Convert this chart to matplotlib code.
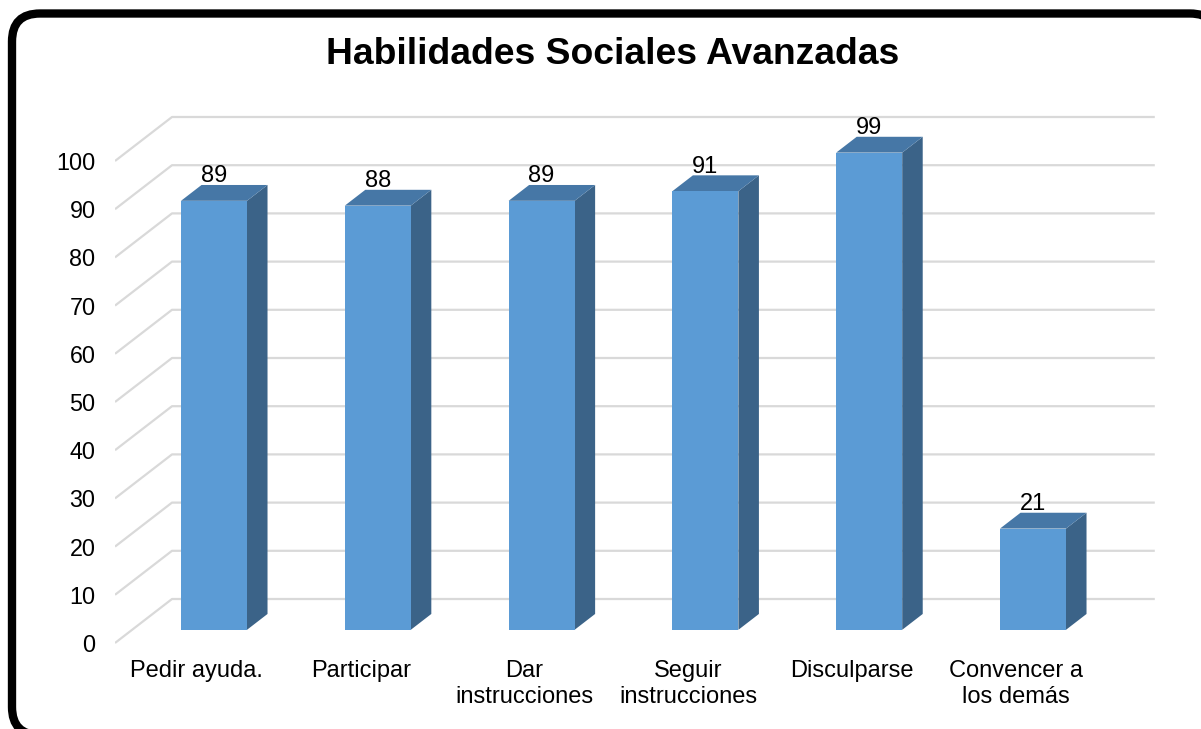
import matplotlib
matplotlib.use("Agg")
import matplotlib.pyplot as plt
from matplotlib.patches import Polygon, FancyBboxPatch

plt.rcParams['font.family'] = ['Liberation Sans', 'DejaVu Sans']

# data
categories = ['Pedir ayuda.', 'Participar', 'Dar\ninstrucciones',
              'Seguir\ninstrucciones', 'Disculparse', 'Convencer a\nlos demás']
values = [89, 88, 89, 91, 99, 21]
yticks = list(range(0, 101, 10))
title = 'Habilidades Sociales Avanzadas'

# look of the fake 3D
front_col = '#5B9BD5'
top_col = '#4677A6'
side_col = '#3B6388'
grid_col = '#D9D9D9'

W, H = 1201, 729
fig = plt.figure(figsize=(W / 100, H / 100), dpi=100)

# pixel layout of the plot area
px_left, px_right = 115, 1155
px_top, px_bottom = 90, 652
px_zero = 643          # pixel row of value 0 on front floor
px_per_unit = 4.82     # pixels per value unit
px_per_cat = 163.8     # pixels per category
wall_dx_px, wall_dy_px = 57, 44

ax = fig.add_axes([px_left / W, (H - px_bottom) / H,
                   (px_right - px_left) / W, (px_bottom - px_top) / H])
ax.set_xlim(-0.5, -0.5 + (px_right - px_left) / px_per_cat)
ax.set_ylim((px_zero - px_bottom) / px_per_unit, (px_zero - px_top) / px_per_unit)

DX = wall_dx_px / px_per_cat
DY = wall_dy_px / px_per_unit
f1, f2 = 0.30, 0.66  # depth of bar front / back as fraction of wall depth
n = len(categories)

# gridlines: diagonal on the side wall + horizontal on the back wall
for v in yticks:
    ax.plot([-0.5, -0.5 + DX, n - 0.5 + DX], [v, v + DY, v + DY],
            color=grid_col, lw=1.6, zorder=1, solid_capstyle='butt')

bw = 66 / px_per_cat
ddx = DX * (f2 - f1)
ddy = DY * (f2 - f1)
for i, v in enumerate(values):
    xc = i + DX * f1
    bot = DY * f1
    top = v + bot
    xl, xr = xc - bw / 2, xc + bw / 2
    ax.add_patch(Polygon([(xr, bot), (xr, top), (xr + ddx, top + ddy), (xr + ddx, bot + ddy)],
                         closed=True, facecolor=side_col, edgecolor='none', zorder=3))
    ax.add_patch(Polygon([(xl, top), (xr, top), (xr + ddx, top + ddy), (xl + ddx, top + ddy)],
                         closed=True, facecolor=top_col, edgecolor='none', zorder=3))
    ax.text(xc, v + DY * f2 - 0.5, str(v), ha='center', va='bottom', fontsize=17, zorder=5)

ax.bar([i + DX * f1 for i in range(n)], values, bottom=DY * f1, width=bw,
       color=front_col, edgecolor='none', zorder=4)

ax.set_yticks(yticks)
ax.set_yticklabels([str(t) for t in yticks], fontsize=16.8)
ax.set_xticks(range(n))
ax.set_xticklabels(categories, fontsize=17, linespacing=1.2)
ax.tick_params(axis='y', length=0, pad=14)
ax.tick_params(axis='x', length=0, pad=6)
for s in ax.spines.values():
    s.set_visible(False)
ax.patch.set_alpha(0)

fig.text(613 / W, 1 - 55 / H, title, ha='center', va='center',
         fontsize=26.8, fontweight='bold')

# rounded black frame, partly cut by the right and bottom edges
ov = fig.add_axes([0, 0, 1, 1], zorder=-1)
ov.set_xlim(0, W)
ov.set_ylim(H, 0)
ov.axis('off')
ov.add_patch(FancyBboxPatch((12, 13.5), 1218 - 12, 735 - 13.5,
                            boxstyle='round,pad=0,rounding_size=28',
                            facecolor='white', edgecolor='black', lw=6))

fig.savefig('out.png', dpi=100)
